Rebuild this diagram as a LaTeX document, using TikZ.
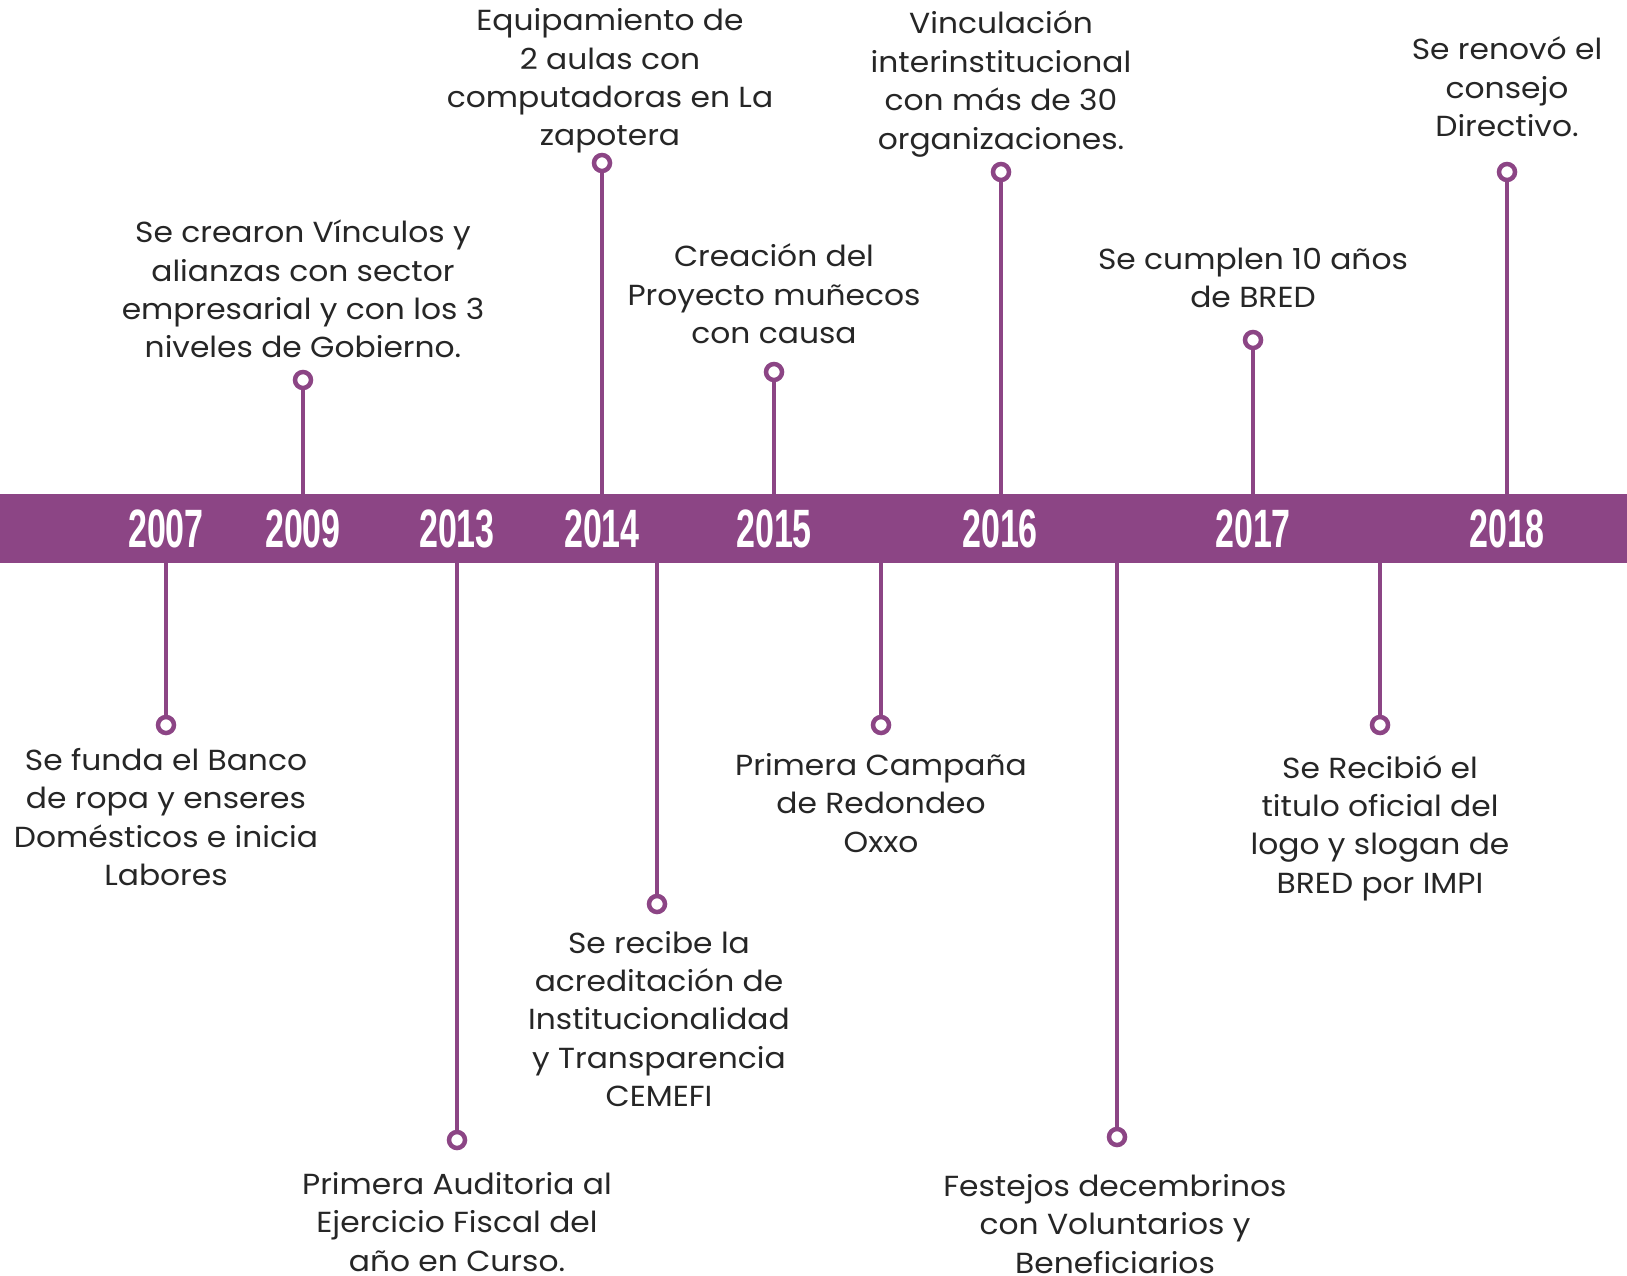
\documentclass[tikz,border=0pt]{standalone}
\usepackage{fontspec}
\setmainfont{Poppins}[FakeStretch=1.08]
\newfontfamily\yearfont[FakeStretch=0.63]{Liberation Sans}
\definecolor{tlpurple}{HTML}{8C4585}
\definecolor{tltext}{HTML}{262626}
\begin{document}
\begin{tikzpicture}[x=1pt,y=-1pt,
  stem/.style={draw=tlpurple, line width=4.5pt},
  dot/.style={circle, draw=tlpurple, line width=4.5pt, fill=white, minimum size=16pt, inner sep=0pt},
  yr/.style={text=white, font=\yearfont\bfseries\fontsize{54}{54}\selectfont, inner sep=0pt},
  lbl/.style={text=tltext, align=center, inner sep=0pt, font=\fontsize{29}{38.4}\selectfont}]
\useasboundingbox (0,0) rectangle (1627,1276);
\node[fill=tlpurple, minimum width=1627pt, minimum height=69pt, inner sep=0pt, anchor=north west] (band) at (0,494) {};
% years
\node[yr] (y2007) at (166,529) {2007};
\node[yr] (y2009) at (303,529) {2009};
\node[yr] (y2013) at (457,529) {2013};
\node[yr] (y2014) at (602,529) {2014};
\node[yr] (y2015) at (774,529) {2015};
\node[yr] (y2016) at (1000,529) {2016};
\node[yr] (y2017) at (1253,529) {2017};
\node[yr] (y2018) at (1507,529) {2018};
% top markers
\node[dot] (t1) at (303,380) {};
\node[dot] (t2) at (602,163) {};
\node[dot] (t3) at (774,372) {};
\node[dot] (t4) at (1001,172) {};
\node[dot] (t5) at (1253,340) {};
\node[dot] (t6) at (1507,172) {};
\foreach \n in {t1,t2,t3,t4,t5,t6} \draw[stem] (\n.south) -- (\n |- band.north);
% bottom markers
\node[dot] (b1) at (166,725) {};
\node[dot] (b2) at (457,1140) {};
\node[dot] (b3) at (657,904) {};
\node[dot] (b4) at (881,725) {};
\node[dot] (b5) at (1117,1137) {};
\node[dot] (b6) at (1380,725) {};
\foreach \n in {b1,b2,b3,b4,b5,b6} \draw[stem] (\n.north) -- (\n |- band.south);
% labels top
\node[lbl] (l1) at (303,289) {Se crearon Vínculos y\\alianzas con sector\\empresarial y con los 3\\niveles de Gobierno.};
\node[lbl] (l2) at (610,81) {Equipamiento de\\2 aulas con\\computadoras en La\\zapotera};
\node[lbl] (l3) at (774,294) {Creación del\\Proyecto muñecos\\con causa};
\node[lbl] (l4) at (1001,84) {Vinculación\\interinstitucional\\con más de 30\\organizaciones.};
\node[lbl] (l5) at (1253,278) {Se cumplen 10 años\\de BRED};
\node[lbl] (l6) at (1507,87) {Se renovó el\\consejo\\Directivo.};
% labels bottom
\node[lbl] (m1) at (166,817) {Se funda el Banco\\de ropa y enseres\\Domésticos e inicia\\Labores};
\node[lbl] (m2) at (457,1222) {Primera Auditoria al\\Ejercicio Fiscal del\\año en Curso.};
\node[lbl] (m3) at (659,1019) {Se recibe la\\acreditación de\\Institucionalidad\\y Transparencia\\CEMEFI};
\node[lbl] (m4) at (881,803) {Primera Campaña\\de Redondeo\\Oxxo};
\node[lbl] (m5) at (1115,1224) {Festejos decembrinos\\con Voluntarios y\\Beneficiarios};
\node[lbl] (m6) at (1380,828) {Se Recibió el\\titulo oficial del\\logo y slogan de\\BRED por IMPI};
\end{tikzpicture}
\end{document}
